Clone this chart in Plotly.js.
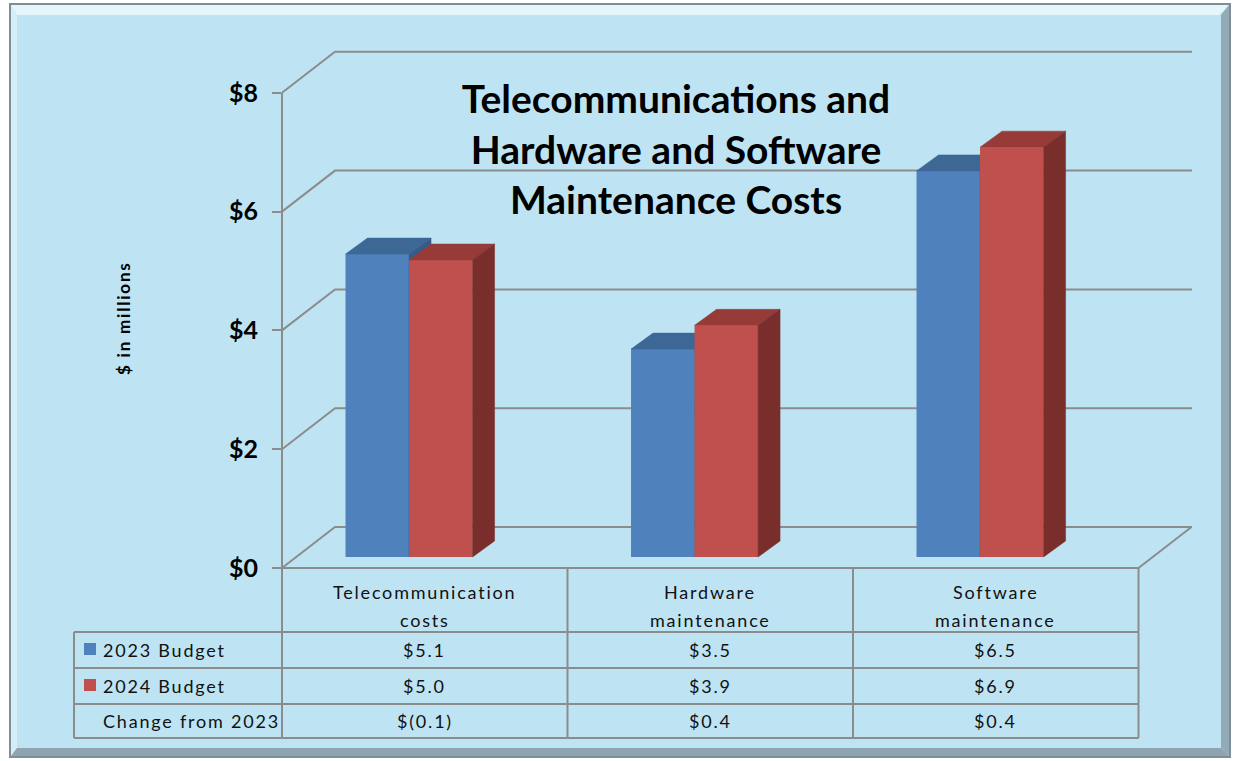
<!DOCTYPE html>
<html>
<head>
<meta charset="utf-8">
<script src="https://cdn.plot.ly/plotly-3.0.1.min.js"></script>
<style>
html,body{margin:0;padding:0;background:#ffffff;}
#chart{width:1233px;height:761px;}
.annotation-text{letter-spacing:1.8px;}
</style>
</head>
<body>
<div id="chart"></div>
<script>
// ---------------- DATA ----------------
const categories = ["Telecommunication costs", "Hardware maintenance", "Software maintenance"];
const categoryLines = [["Telecommunication", "costs"], ["Hardware", "maintenance"], ["Software", "maintenance"]];
const seriesNames = ["2023 Budget", "2024 Budget", "Change from 2023"];
const budget2023 = [5.1, 3.5, 6.5];
const budget2024 = [5.0, 3.9, 6.9];
const changeFrom2023 = [-0.1, 0.4, 0.4];
const yTickValues = [0, 2, 4, 6, 8];
const yTickLabels = ["$0", "$2", "$4", "$6", "$8"];
const yAxisTitle = "$ in millions";
const chartTitle = "Telecommunications and<br>Hardware and Software<br>Maintenance Costs";

// ---------------- GEOMETRY / STYLE ----------------
const W = 1233, H = 761;
const L = 282, R = 1192, T = 52, B = 568;      // plot area in px
const pxPerX = 285.5, pxPerY = 59.4;
const xMin = -0.445;
const xMax = xMin + (R - L) / pxPerX;
const yMax = (B - T) / pxPerY;
const barShift = 11 / pxPerY;                  // bars sit slightly behind the front plane
const barW = 0.2225;
const bdx = 22 / pxPerX, bdy = 16 / pxPerY;    // bar depth
const wdx = 53 / pxPerX, wdy = 41 / pxPerY;    // wall depth
const FONT = "Lato, 'Open Sans', sans-serif";
const GRID = "#8c8c8c";
const BG = "#bee4f4";

const colors = {
  blue: {front: "#4f81bd", top: "#3d6795", side: "#365b88"},
  red:  {front: "#c0504d", top: "#963b38", side: "#7a2e2c"}
};

// px -> paper helpers (for decorations outside the plot area)
const pX = x => (x - L) / (R - L);
const pY = y => (B - y) / (B - T);
// data units -> paper
const uX = u => (u - xMin) / (xMax - xMin);
const uY = u => u / yMax;

function fmt(v) {
  return v < 0 ? "$(" + Math.abs(v).toFixed(1) + ")" : "$" + v.toFixed(1);
}

function faceTraces(values, offset, c, yax) {
  const tx = [], ty = [], sx = [], sy = [];
  values.forEach((v, i) => {
    const xl = i + offset, xr = xl + barW;
    const b = barShift, t = barShift + v;
    tx.push(xl, xl + bdx, xr + bdx, xr, xl, null);
    ty.push(t, t + bdy, t + bdy, t, t, null);
    sx.push(xr, xr + bdx, xr + bdx, xr, xr, null);
    sy.push(b, b + bdy, t + bdy, t, b, null);
  });
  return [
    {type: "scatter", x: tx, y: ty, xaxis: "x", yaxis: yax, mode: "lines", fill: "toself",
     fillcolor: c.top, line: {color: c.top, width: 0.5}, hoverinfo: "skip", showlegend: false},
    {type: "scatter", x: sx, y: sy, xaxis: "x", yaxis: yax, mode: "lines", fill: "toself",
     fillcolor: c.side, line: {color: c.side, width: 0.5}, hoverinfo: "skip", showlegend: false}
  ];
}

const idx = categories.map((_, i) => i);

const traces = [
  {type: "bar", name: seriesNames[0], x: idx, y: budget2023, base: barShift, xaxis: "x", yaxis: "y",
   width: barW, offset: -barW, marker: {color: colors.blue.front, line: {width: 0}},
   textposition: "none", customdata: categories,
   hovertemplate: "%{customdata}<br>" + seriesNames[0] + ": $%{y:.1f}M<extra></extra>"},
  ...faceTraces(budget2023, -barW, colors.blue, "y"),
  {type: "bar", name: seriesNames[1], x: idx, y: budget2024, base: barShift, xaxis: "x", yaxis: "y2",
   width: barW, offset: 0, marker: {color: colors.red.front, line: {width: 0}},
   textposition: "none", customdata: categories,
   hovertemplate: "%{customdata}<br>" + seriesNames[1] + ": $%{y:.1f}M<extra></extra>"},
  ...faceTraces(budget2024, 0, colors.red, "y2")
];

// ---------------- SHAPES ----------------
const shapes = [];
function poly(pts, fill) {
  const d = pts.map((p, k) => (k ? "L" : "M") + pX(p[0]) + "," + pY(p[1])).join(" ") + " Z";
  shapes.push({type: "path", xref: "paper", yref: "paper", path: d, fillcolor: fill,
               line: {width: 0}, layer: "below"});
}
function line(x0, y0, x1, y1, w) {
  shapes.push({type: "line", xref: "paper", yref: "paper", x0: x0, y0: y0, x1: x1, y1: y1,
               line: {color: GRID, width: w || 2}, layer: "below"});
}

// frame with bevel
poly([[9, 3], [1231, 3], [1231, 758], [9, 758]], "#7f8e97");
poly([[11, 5], [1229, 5], [1229, 756], [11, 756]], BG);
poly([[11, 5], [1229, 5], [1219, 15], [17, 15]], "#e4f5fc");
poly([[11, 5], [17, 15], [17, 748], [11, 756]], "#d6eef8");
poly([[1229, 5], [1229, 756], [1221, 748], [1221, 15]], "#93aab7");
poly([[11, 756], [1229, 756], [1221, 748], [17, 748]], "#8ea4b1");

// back wall grid lines (perspective)
yTickValues.forEach(v => {
  const d = "M" + uX(xMin) + "," + uY(v) + " L" + uX(xMin + wdx) + "," + uY(v + wdy) +
            " L" + uX(xMax) + "," + uY(v + wdy);
  shapes.push({type: "path", xref: "paper", yref: "paper", path: d,
               line: {color: GRID, width: 2}, layer: "below"});
});
// floor right diagonal
line(uX(xMin + 3), 0, uX(xMin + 3 + wdx), uY(wdy), 2);
// vertical axis line (front plane) continuing through the table
line(uX(xMin), uY(yTickValues[yTickValues.length - 1]), uX(xMin), pY(738), 2);

// data table grid
const rowY = [568, 632, 668, 704, 738];
line(uX(xMin), pY(rowY[0]), uX(xMin + 3), pY(rowY[0]), 2);
for (let r = 1; r < rowY.length; r++) line(pX(74), pY(rowY[r]), uX(xMin + 3), pY(rowY[r]), 2);
line(pX(74), pY(rowY[1]), pX(74), pY(rowY[4]), 2);
for (let c = 1; c <= 3; c++) line(uX(xMin + c), pY(rowY[0]), uX(xMin + c), pY(rowY[4]), 2);

// legend keys in table
[[colors.blue.front, 649], [colors.red.front, 685]].forEach(k => {
  shapes.push({type: "rect", xref: "paper", yref: "paper",
               x0: pX(84), x1: pX(96), y0: pY(k[1] - 6), y1: pY(k[1] + 6),
               fillcolor: k[0], line: {width: 0}, layer: "above"});
});

// ---------------- ANNOTATIONS ----------------
const annotations = [];
const tFont = {family: FONT, size: 18, color: "#111111"};
categoryLines.forEach((lines, i) => {
  lines.forEach((t, k) => {
    annotations.push({xref: "paper", yref: "paper", x: uX(xMin + i + 0.5), y: pY(592 + 28 * k),
                      text: t, showarrow: false, xanchor: "center", yanchor: "middle", font: tFont});
  });
  [[budget2023, 650], [budget2024, 686], [changeFrom2023, 721]].forEach(rw => {
    annotations.push({xref: "paper", yref: "paper", x: uX(xMin + i + 0.5), y: pY(rw[1]),
                      text: fmt(rw[0][i]), showarrow: false, xanchor: "center", yanchor: "middle", font: tFont});
  });
});
[[seriesNames[0], 650], [seriesNames[1], 686], [seriesNames[2], 721]].forEach(s => {
  annotations.push({xref: "paper", yref: "paper", x: pX(101), y: pY(s[1]), text: s[0],
                    showarrow: false, xanchor: "left", yanchor: "middle", font: tFont});
});
// y-axis title
annotations.push({xref: "paper", yref: "paper", x: pX(123), y: pY(318), text: yAxisTitle,
                  textangle: -90, showarrow: false, xanchor: "center", yanchor: "middle",
                  font: {family: FONT, size: 17, weight: 700, color: "#000000"}});

const layout = {
  width: W, height: H,
  margin: {l: L, r: W - R, t: T, b: H - B, pad: 0},
  paper_bgcolor: "#ffffff",
  plot_bgcolor: "rgba(0,0,0,0)",
  showlegend: false,
  title: {
    text: chartTitle,
    font: {family: FONT, size: 39, weight: 700, color: "#000000"},
    x: 676 / W, xanchor: "center", xref: "container",
    y: 1 - 113 / H, yanchor: "middle", yref: "container"
  },
  xaxis: {range: [xMin, xMax], visible: false, fixedrange: true},
  yaxis: {
    range: [0, yMax], tickvals: yTickValues, ticktext: yTickLabels,
    ticks: "outside", ticklen: 9, tickwidth: 2, tickcolor: GRID,
    showgrid: false, zeroline: false, showline: false, fixedrange: true,
    ticklabelstandoff: 9,
    tickfont: {family: FONT, size: 25, weight: 700, color: "#000000"}
  },
  yaxis2: {range: [0, yMax], overlaying: "y", visible: false, fixedrange: true},
  shapes: shapes,
  annotations: annotations
};

Plotly.newPlot("chart", traces, layout, {displayModeBar: false, staticPlot: true});
</script>
</body>
</html>
